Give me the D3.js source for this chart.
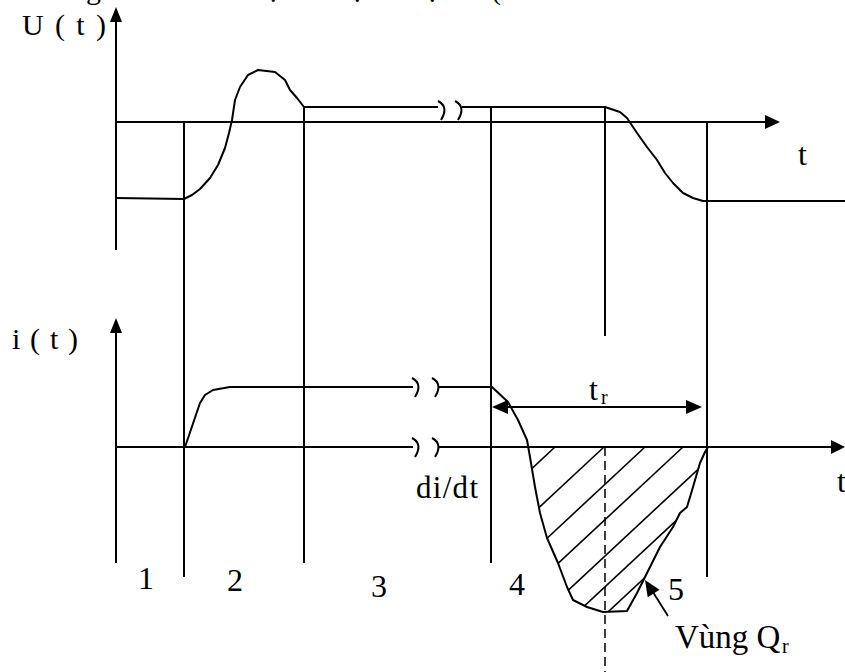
<!DOCTYPE html>
<html>
<head>
<meta charset="utf-8">
<script src="https://cdn.jsdelivr.net/npm/d3@7"></script>
<style>
body { margin: 0; background: #fff; }
svg { display: block; }
text { font-family: "Liberation Serif", "Times New Roman", serif; fill: #000; }
</style>
</head>
<body>
<svg id="chart" width="845" height="672"></svg>
<script>
// time t and the values U, i are in arbitrary units
const uBefore = [[0, -7.6], [6.8, -7.7], [7.6, -7.3], [8.4, -6.7], [9.4, -5.6], [10.2, -4.3], [10.9, -2.6],
  [11.3, -1.1], [11.6, 0.2], [11.9, 2.2], [12.4, 3.5], [13.2, 4.7], [14.2, 5.2], [15.9, 5.0], [16.9, 4.2],
  [17.4, 3.2], [18.1, 2.4], [18.8, 1.5], [32.2, 1.5]];
const uAfter = [[34.6, 1.5], [48.9, 1.5], [50.4, 1.0], [51.1, 0.4], [52.1, -1.1], [53.1, -2.5], [54.1, -3.8],
  [54.9, -5.1], [55.7, -6.1], [56.7, -7.1], [57.7, -7.6], [58.7, -7.9], [72.9, -7.9]];
const iBefore = [[6.9, 0], [8.4, 4.4], [8.9, 5.2], [9.7, 5.7], [11.4, 6.0], [29.7, 6.0]];
const iAfter = [[32.2, 6.0], [37.6, 6.0], [39.2, 4.5], [40.2, 2.7], [41.1, 0.7], [41.4, -1.0], [41.9, -4.0],
  [42.4, -6.6], [43.1, -9.1], [44.2, -11.6], [45.1, -14.0], [45.7, -15.3], [47.1, -16.0], [48.7, -16.5],
  [51.1, -16.4], [52.1, -14.6], [53.1, -12.6], [54.4, -10.0], [55.7, -8.0], [56.4, -6.6], [57.1, -6.0],
  [57.7, -4.0], [58.4, -1.6], [58.9, -0.5], [59.2, 0]];

const uBreaks = [32.6, 34.3];
const iBreaks = [30.0, 32.0];

const dividerT = [6.8, 18.8, 37.5, 48.9, 59.1];
const dividerTopU = [0, 1.5, 1.5, 1.4, 0];
const dividerBottomI = [-13, -11.6, -11.6, 11.1, -13];

const hatchT = [43.9, 48.8, 52.9, 56.7, 60.6, 63.9, 66.9];
const trSpan = [37.6, 58.6];
const trLevel = 4.0;
const rrT = 48.9; // peak reverse current

const regionLabels = ['1', '2', '3', '4', '5'];
const regionT = [3.0, 11.9, 26.3, 40.1, 56.0];
const regionI = [-14.2, -14.4, -15.0, -14.8, -15.3];

const svg = d3.select('#chart');

const x = d3.scaleLinear().domain([0, 72.9]).range([116, 845]);
const yU = d3.scaleLinear().domain([-13, 12]).range([252, 2]);
const yI = d3.scaleLinear().domain([-22.5, 13]).range([672, 317]);

const lineU = d3.line().x(d => x(d[0])).y(d => yU(d[1]));
const lineI = d3.line().x(d => x(d[0])).y(d => yI(d[1]));

function seg(x1, y1, x2, y2, w) {
    svg.append('line')
        .attr('x1', x1).attr('y1', y1).attr('x2', x2).attr('y2', y2)
        .attr('stroke', '#000').attr('stroke-width', w || 2);
}

// filled arrow head, tip at (tx,ty), pointing away from (fx,fy)
function head(tx, ty, fx, fy, len, half) {
    const a = Math.atan2(ty - fy, tx - fx);
    const bx = tx - len * Math.cos(a), by = ty - len * Math.sin(a);
    const px = -Math.sin(a) * half, py = Math.cos(a) * half;
    svg.append('path')
        .attr('d', 'M' + tx + ',' + ty + 'L' + (bx + px) + ',' + (by + py) + 'L' + (bx - px) + ',' + (by - py) + 'Z')
        .attr('fill', '#000');
}

function breakMark(px, py) {
    svg.append('path')
        .attr('d', 'M' + (px - 4) + ',' + (py - 9) + 'C' + (px + 4) + ',' + (py - 5) + ' ' + (px + 4) + ',' + (py + 2) + ' ' + (px - 1) + ',' + (py + 10))
        .attr('fill', 'none').attr('stroke', '#000').attr('stroke-width', 2);
}

// axes
seg(x(0), yU(-12.8), x(0), yU(10.2));
head(x(0), yU(11.5), x(0), yU(0), 15, 6);
seg(x(0), yU(0), x(65), yU(0));
head(x(66.4), yU(0), x(0), yU(0), 15, 7);

seg(x(0), yI(-11.6), x(0), yI(11.5));
head(x(0), yI(12.9), x(0), yI(0), 15, 6);
seg(x(0), yI(0), x(29.7), yI(0));
seg(x(32.2), yI(0), x(71.5), yI(0));
head(x(72.9), yI(0), x(0), yI(0), 14, 7);

// dividers between the switching stages
dividerT.forEach((t, k) => seg(x(t), yU(dividerTopU[k]), x(t), yI(dividerBottomI[k])));

// dashed line at peak reverse current
svg.append('line')
    .attr('x1', x(rrT)).attr('y1', yI(0)).attr('x2', x(rrT)).attr('y2', yI(-22.5))
    .attr('stroke', '#000').attr('stroke-width', 1.5).attr('stroke-dasharray', '9,5');

// hatched Qr region
const clipPts = [[41.2, 0]].concat(iAfter.slice(4));
svg.append('clipPath').attr('id', 'qr')
    .append('path').attr('d', lineI(clipPts) + 'Z');
svg.append('g').attr('clip-path', 'url(#qr)')
    .selectAll('line').data(hatchT).enter().append('line')
    .attr('x1', d => x(d)).attr('y1', yI(0))
    .attr('x2', d => x(d - 22)).attr('y2', yI(-20.5))
    .attr('stroke', '#000').attr('stroke-width', 1.6);

// waveforms
[[uBefore, lineU], [uAfter, lineU], [iBefore, lineI], [iAfter, lineI]].forEach(p => {
    svg.append('path').attr('d', p[1](p[0]))
        .attr('fill', 'none').attr('stroke', '#000').attr('stroke-width', 2)
        .attr('stroke-linejoin', 'round');
});

uBreaks.forEach(t => breakMark(x(t), yU(1.5) + 3));
iBreaks.forEach(t => { breakMark(x(t), yI(6)); breakMark(x(t), yI(0)); });

// tr span
seg(x(trSpan[0]) + 10, yI(trLevel), x(trSpan[1]) - 10, yI(trLevel));
head(x(trSpan[0]), yI(trLevel), x(trSpan[1]), yI(trLevel), 16, 7);
head(x(trSpan[1]), yI(trLevel), x(trSpan[0]), yI(trLevel), 16, 7);

// pointer to region 5
seg(x(55.2), yI(-16.9), x(53.5), yI(-14.2), 1.8);
head(x(52.9), yI(-13.3), x(55.2), yI(-16.9), 16, 7);

// texts
function label(str, px, py, size, len) {
    const t = svg.append('text').attr('x', px).attr('y', py)
        .style('font-size', size + 'px').text(str);
    if (len) t.attr('textLength', len).attr('lengthAdjust', 'spacing');
    return t;
}
// heading above the figure, cut off by the top edge as in the source
label('g', 86, -1, 30);
label('ạ', 267, -3, 30);
label('ạ', 351, -3, 30);
label('ạ', 426, -3, 30);
label('(', 491, -1, 30);

label('U ( t )', 22, 35, 30, 84);
label('t', 798, 165, 32);
label('i ( t )', 12, 349, 30, 66);
label('di/dt', 416, 498, 31, 62);
label('t', 837, 492, 32);
label('t', 589, 400, 32);
label('r', 601, 404, 20);
label('Vùng Q', 675, 648, 33);
label('r', 782, 653, 20);

svg.selectAll('.region').data(regionLabels).enter().append('text')
    .attr('class', 'region')
    .attr('x', (d, k) => x(regionT[k]))
    .attr('y', (d, k) => yI(regionI[k]))
    .attr('text-anchor', 'middle')
    .style('font-size', '32px')
    .text(d => d);
</script>
</body>
</html>
